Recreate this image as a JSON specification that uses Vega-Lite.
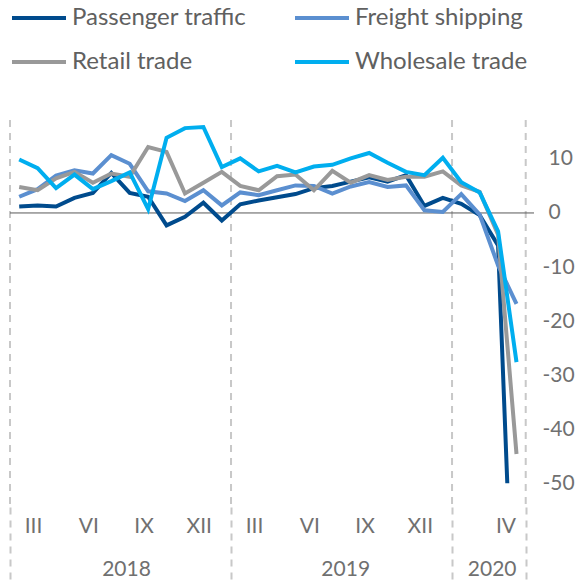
{
  "$schema": "https://vega.github.io/schema/vega-lite/v6.json",
  "width": 524,
  "height": 387,
  "padding": {"left": 9, "top": -11, "right": 0, "bottom": 0},
  "config": {
    "font": "Lato",
    "view": {"stroke": null},
    "legend": {
      "orient": "top",
      "direction": "horizontal",
      "columns": 2,
      "columnPadding": 40,
      "rowPadding": 3,
      "symbolType": "stroke",
      "symbolSize": 2916,
      "symbolStrokeWidth": 4,
      "labelFontSize": 24,
      "labelColor": "#606060",
      "labelOffset": 4,
      "labelLimit": 0,
      "offset": 45,
      "title": null
    }
  },
  "datasets": {
    "seps": [{"m": 0}, {"m": 12}, {"m": 24}, {"m": 28}],
    "zero": [{"a": 0, "b": 28.45, "v": 0}],
    "series": [
      {"s": "Passenger traffic", "m": 0.5, "v": 1.2},
      {"s": "Passenger traffic", "m": 1.5, "v": 1.4},
      {"s": "Passenger traffic", "m": 2.5, "v": 1.2},
      {"s": "Passenger traffic", "m": 3.5, "v": 2.8},
      {"s": "Passenger traffic", "m": 4.5, "v": 3.7},
      {"s": "Passenger traffic", "m": 5.5, "v": 7.4},
      {"s": "Passenger traffic", "m": 6.5, "v": 3.7},
      {"s": "Passenger traffic", "m": 7.5, "v": 3.0},
      {"s": "Passenger traffic", "m": 8.5, "v": -2.3},
      {"s": "Passenger traffic", "m": 9.5, "v": -0.7},
      {"s": "Passenger traffic", "m": 10.5, "v": 1.9},
      {"s": "Passenger traffic", "m": 11.5, "v": -1.4},
      {"s": "Passenger traffic", "m": 12.5, "v": 1.6},
      {"s": "Passenger traffic", "m": 13.5, "v": 2.3},
      {"s": "Passenger traffic", "m": 14.5, "v": 2.9},
      {"s": "Passenger traffic", "m": 15.5, "v": 3.5},
      {"s": "Passenger traffic", "m": 16.5, "v": 4.6},
      {"s": "Passenger traffic", "m": 17.5, "v": 5.0},
      {"s": "Passenger traffic", "m": 18.5, "v": 5.8},
      {"s": "Passenger traffic", "m": 19.5, "v": 6.6},
      {"s": "Passenger traffic", "m": 20.5, "v": 5.8},
      {"s": "Passenger traffic", "m": 21.5, "v": 7.0},
      {"s": "Passenger traffic", "m": 22.5, "v": 1.3},
      {"s": "Passenger traffic", "m": 23.5, "v": 2.8},
      {"s": "Passenger traffic", "m": 24.5, "v": 1.7},
      {"s": "Passenger traffic", "m": 25.5, "v": -0.4},
      {"s": "Passenger traffic", "m": 26.5, "v": -6.0},
      {"s": "Passenger traffic", "m": 27.0, "v": -50.0},
      {"s": "Freight shipping", "m": 0.5, "v": 3.0},
      {"s": "Freight shipping", "m": 1.5, "v": 4.4},
      {"s": "Freight shipping", "m": 2.5, "v": 6.9},
      {"s": "Freight shipping", "m": 3.5, "v": 7.9},
      {"s": "Freight shipping", "m": 4.5, "v": 7.3},
      {"s": "Freight shipping", "m": 5.5, "v": 10.7},
      {"s": "Freight shipping", "m": 6.5, "v": 9.1},
      {"s": "Freight shipping", "m": 7.5, "v": 4.0},
      {"s": "Freight shipping", "m": 8.5, "v": 3.6},
      {"s": "Freight shipping", "m": 9.5, "v": 2.2},
      {"s": "Freight shipping", "m": 10.5, "v": 4.2},
      {"s": "Freight shipping", "m": 11.5, "v": 1.4},
      {"s": "Freight shipping", "m": 12.5, "v": 3.8},
      {"s": "Freight shipping", "m": 13.5, "v": 3.3},
      {"s": "Freight shipping", "m": 14.5, "v": 4.2},
      {"s": "Freight shipping", "m": 15.5, "v": 5.1},
      {"s": "Freight shipping", "m": 16.5, "v": 5.0},
      {"s": "Freight shipping", "m": 17.5, "v": 3.6},
      {"s": "Freight shipping", "m": 18.5, "v": 4.9},
      {"s": "Freight shipping", "m": 19.5, "v": 5.7},
      {"s": "Freight shipping", "m": 20.5, "v": 4.8},
      {"s": "Freight shipping", "m": 21.5, "v": 5.1},
      {"s": "Freight shipping", "m": 22.5, "v": 0.5},
      {"s": "Freight shipping", "m": 23.5, "v": 0.2},
      {"s": "Freight shipping", "m": 24.5, "v": 3.5},
      {"s": "Freight shipping", "m": 25.5, "v": -0.3},
      {"s": "Freight shipping", "m": 26.5, "v": -9.7},
      {"s": "Freight shipping", "m": 27.5, "v": -16.8},
      {"s": "Retail trade", "m": 0.5, "v": 4.8},
      {"s": "Retail trade", "m": 1.5, "v": 4.2},
      {"s": "Retail trade", "m": 2.5, "v": 6.4},
      {"s": "Retail trade", "m": 3.5, "v": 7.6},
      {"s": "Retail trade", "m": 4.5, "v": 5.6},
      {"s": "Retail trade", "m": 5.5, "v": 7.3},
      {"s": "Retail trade", "m": 6.5, "v": 6.7},
      {"s": "Retail trade", "m": 7.5, "v": 12.2},
      {"s": "Retail trade", "m": 8.5, "v": 11.3},
      {"s": "Retail trade", "m": 9.5, "v": 3.6},
      {"s": "Retail trade", "m": 10.5, "v": 5.6},
      {"s": "Retail trade", "m": 11.5, "v": 7.6},
      {"s": "Retail trade", "m": 12.5, "v": 5.0},
      {"s": "Retail trade", "m": 13.5, "v": 4.2},
      {"s": "Retail trade", "m": 14.5, "v": 6.8},
      {"s": "Retail trade", "m": 15.5, "v": 7.1},
      {"s": "Retail trade", "m": 16.5, "v": 4.2},
      {"s": "Retail trade", "m": 17.5, "v": 7.8},
      {"s": "Retail trade", "m": 18.5, "v": 5.6},
      {"s": "Retail trade", "m": 19.5, "v": 7.0},
      {"s": "Retail trade", "m": 20.5, "v": 6.1},
      {"s": "Retail trade", "m": 21.5, "v": 6.7},
      {"s": "Retail trade", "m": 22.5, "v": 6.7},
      {"s": "Retail trade", "m": 23.5, "v": 7.7},
      {"s": "Retail trade", "m": 24.5, "v": 5.1},
      {"s": "Retail trade", "m": 25.5, "v": 3.9},
      {"s": "Retail trade", "m": 26.5, "v": -4.0},
      {"s": "Retail trade", "m": 27.5, "v": -44.6},
      {"s": "Wholesale trade", "m": 0.5, "v": 9.9},
      {"s": "Wholesale trade", "m": 1.5, "v": 8.3},
      {"s": "Wholesale trade", "m": 2.5, "v": 4.6},
      {"s": "Wholesale trade", "m": 3.5, "v": 7.1},
      {"s": "Wholesale trade", "m": 4.5, "v": 4.4},
      {"s": "Wholesale trade", "m": 5.5, "v": 5.9},
      {"s": "Wholesale trade", "m": 6.5, "v": 7.5},
      {"s": "Wholesale trade", "m": 7.5, "v": 0.7},
      {"s": "Wholesale trade", "m": 8.5, "v": 13.9},
      {"s": "Wholesale trade", "m": 9.5, "v": 15.7},
      {"s": "Wholesale trade", "m": 10.5, "v": 15.9},
      {"s": "Wholesale trade", "m": 11.5, "v": 8.5},
      {"s": "Wholesale trade", "m": 12.5, "v": 10.1},
      {"s": "Wholesale trade", "m": 13.5, "v": 7.7},
      {"s": "Wholesale trade", "m": 14.5, "v": 8.7},
      {"s": "Wholesale trade", "m": 15.5, "v": 7.5},
      {"s": "Wholesale trade", "m": 16.5, "v": 8.6},
      {"s": "Wholesale trade", "m": 17.5, "v": 8.9},
      {"s": "Wholesale trade", "m": 18.5, "v": 10.1},
      {"s": "Wholesale trade", "m": 19.5, "v": 11.1},
      {"s": "Wholesale trade", "m": 20.5, "v": 9.3},
      {"s": "Wholesale trade", "m": 21.5, "v": 7.6},
      {"s": "Wholesale trade", "m": 22.5, "v": 7.0},
      {"s": "Wholesale trade", "m": 23.5, "v": 10.2},
      {"s": "Wholesale trade", "m": 24.5, "v": 5.7},
      {"s": "Wholesale trade", "m": 25.5, "v": 3.8},
      {"s": "Wholesale trade", "m": 26.5, "v": -3.4},
      {"s": "Wholesale trade", "m": 27.5, "v": -27.6}
    ]
  },
  "layer": [
    {
      "data": {"name": "seps"},
      "mark": {"type": "rule", "color": "#c8c8c8", "strokeWidth": 2, "strokeDash": [7, 6]},
      "encoding": {
        "x": {
          "field": "m", "type": "quantitative",
          "scale": {"domain": [0, 28.45], "nice": false, "zero": false},
          "axis": {
            "orient": "bottom", "title": null, "labels": false, "domain": false, "grid": false,
            "ticks": true, "tickSize": 80, "tickWidth": 2, "tickColor": "#c8c8c8", "tickDash": [7, 6],
            "values": [0, 12, 24, 28]
          }
        }
      }
    },
    {
      "data": {"name": "zero"},
      "mark": {"type": "rule", "color": "#595959", "strokeWidth": 1},
      "encoding": {
        "x": {
          "field": "a", "type": "quantitative",
          "scale": {"domain": [0, 28.45], "nice": false, "zero": false},
          "axis": {
            "orient": "bottom", "title": null, "domain": false, "grid": false, "ticks": false,
            "values": [6.3, 18.2, 26.15],
            "labelExpr": "datum.value < 12 ? '2018' : datum.value < 24 ? '2019' : '2020'",
            "labelFontSize": 21, "labelColor": "#707070", "labelPadding": 51,
            "labelFlush": false, "labelOverlap": false
          }
        },
        "x2": {"field": "b"},
        "y": {
          "field": "v", "type": "quantitative",
          "scale": {"domain": [-54.4, 17.2], "nice": false, "zero": false},
          "axis": {
            "orient": "right", "title": null, "domain": false, "grid": false, "ticks": false,
            "values": [-50, -40, -30, -20, -10, 0, 10],
            "labelExpr": "datum.value < 0 ? '-' + abs(datum.value) : '' + datum.value",
            "labelAlign": "left", "labelBaseline": "middle",
            "labelFontSize": 21, "labelColor": "#707070",
            "labelPadding": {"condition": {"test": "datum.value < 0", "value": 8}, "value": 14}
          }
        }
      }
    },
    {
      "data": {"name": "series"},
      "mark": {"type": "line", "strokeWidth": 4, "strokeJoin": "miter"},
      "encoding": {
        "x": {
          "field": "m", "type": "quantitative",
          "scale": {"domain": [0, 28.45], "nice": false, "zero": false},
          "axis": {
            "orient": "bottom", "title": null, "domain": false, "grid": false, "ticks": false,
            "values": [1.25, 4.25, 7.25, 10.25, 13.25, 16.25, 19.25, 22.25, 26.9],
            "labelExpr": "datum.value > 26 ? 'IV' : ['III','VI','IX','XII'][round(((datum.value % 12) - 1.25) / 3)]",
            "labelFontSize": 21, "labelColor": "#707070", "labelPadding": 8,
            "labelFlush": false, "labelOverlap": false
          }
        },
        "y": {
          "field": "v", "type": "quantitative",
          "scale": {"domain": [-54.4, 17.2], "nice": false, "zero": false},
          "axis": {
            "orient": "right", "title": null, "domain": false, "grid": false, "ticks": false,
            "values": [-50, -40, -30, -20, -10, 0, 10],
            "labelExpr": "datum.value < 0 ? '-' + abs(datum.value) : '' + datum.value",
            "labelAlign": "left", "labelBaseline": "middle",
            "labelFontSize": 21, "labelColor": "#707070",
            "labelPadding": {"condition": {"test": "datum.value < 0", "value": 8}, "value": 14}
          }
        },
        "color": {
          "field": "s", "type": "nominal",
          "sort": ["Passenger traffic", "Freight shipping", "Retail trade", "Wholesale trade"],
          "scale": {
            "domain": ["Passenger traffic", "Freight shipping", "Retail trade", "Wholesale trade"],
            "range": ["#004b8d", "#5b8fd0", "#999999", "#00aeef"]
          },
          "legend": {}
        },
        "order": {"field": "m"}
      }
    }
  ],
  "resolve": {"axis": {"x": "independent"}}
}
